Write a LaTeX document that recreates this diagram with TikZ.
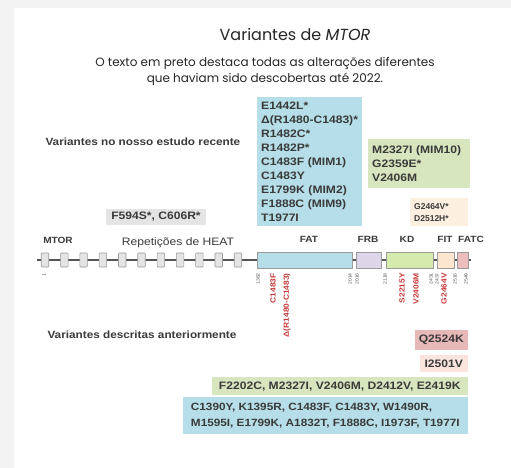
\documentclass[tikz,border=0pt]{standalone}
\usepackage{fontspec}
\setmainfont{Liberation Sans}[FakeStretch=1.12]
\newfontfamily\plainsans{Liberation Sans}
\newfontfamily\titlefont{Poppins}
\definecolor{cblue}{HTML}{B5DEE9}
\definecolor{cgreen}{HTML}{D7E6BE}
\definecolor{ckd}{HTML}{D6EAAE}
\definecolor{cfrb}{HTML}{DDD6E8}
\definecolor{cfit}{HTML}{FDE6CF}
\definecolor{cfatc}{HTML}{EDBDBD}
\definecolor{corange}{HTML}{FDEFE0}
\definecolor{cpink}{HTML}{E7B8B8}
\definecolor{clpink}{HTML}{FBE4DE}
\definecolor{cgray}{HTML}{E4E4E4}
\definecolor{ctext}{HTML}{3A3A3A}
\definecolor{cred}{HTML}{C83A3A}
\definecolor{cline}{HTML}{555555}
\definecolor{cedge}{HTML}{9A9A9A}
\definecolor{cframe}{HTML}{F3F3F3}
\tikzset{
  boxtxt/.style={inner xsep=4pt, inner ysep=0pt, align=left, text=ctext,
    font=\bfseries\fontsize{10.8}{14}\selectfont},
  sectlbl/.style={anchor=west, text=ctext, font=\bfseries\fontsize{10.5}{12}\selectfont},
  domlbl/.style={text=ctext, font=\bfseries\fontsize{9}{10}\selectfont},
  dombox/.style={draw=cedge, line width=0.6pt},
  heatbox/.style={draw=cedge, fill=cgray, line width=0.6pt, minimum width=7.5pt, minimum height=14pt, inner sep=0pt, rounded corners=0.8pt},
  tick/.style={rotate=90, anchor=east, inner sep=0pt, text=cline, font=\fontsize{4.5}{4.5}\selectfont},
  redlbl/.style={rotate=90, anchor=east, inner sep=0pt, text=cred, font=\bfseries\fontsize{7.5}{7.5}\selectfont},
}
\begin{document}
\begin{tikzpicture}[x=1pt,y=-1pt]
\useasboundingbox (0,0) rectangle (511,468);
\fill[cframe] (0,0) rectangle (511,468);
\fill[white] (14,8) rectangle (511,468);

% title
\node[text=black!85, font=\titlefont\fontsize{16}{19}\selectfont] (title) at (295,34) {Variantes de \textit{MTOR}};
\node[text=black!85, align=center, font=\titlefont\fontsize{12}{16}\selectfont] (sub) at (265,71)
  {O texto em preto destaca todas as alterações diferentes\\que haviam sido descobertas até 2022.};

% section labels
\node[sectlbl] (recent) at (42,142) {Variantes no nosso estudo recente};
\node[sectlbl] (prev) at (44,335) {Variantes descritas anteriormente};

% top variant boxes
\node[boxtxt, fill=cblue, anchor=north west, minimum width=105pt, minimum height=129pt, text width=97pt] (bluetop) at (257,97)
  {E1442L*\\Δ(R1480-C1483)*\\R1482C*\\R1482P*\\C1483F (MIM1)\\C1483Y\\E1799K (MIM2)\\F1888C (MIM9)\\T1977I};
\node[boxtxt, fill=cgreen, anchor=north west, minimum width=102pt, minimum height=49pt, text width=94pt] (greentop) at (368,139)
  {M2327I (MIM10)\\G2359E*\\V2406M};
\node[boxtxt, fill=corange, anchor=north west, minimum width=58pt, minimum height=28pt, text width=50pt, font=\bfseries\plainsans\fontsize{8.5}{12}\selectfont] (orangetop) at (410,198)
  {G2464V*\\D2512H*};
\node[boxtxt, fill=cgray, minimum width=100pt, minimum height=16pt, align=center] (graytop) at (156,217)
  {F594S*, C606R*};

% labels above bar
\node[domlbl] (mtor) at (58,240) {MTOR};
\node[text=ctext, font=\fontsize{10.8}{12}\selectfont] (heat) at (178,243) {Repetições de HEAT};
\node[domlbl] (fatl) at (309,239) {FAT};
\node[domlbl] (frbl) at (368,239) {FRB};
\node[domlbl] (kdl) at (407,239) {KD};
\node[domlbl] (fitl) at (445,239) {FIT};
\node[domlbl] (fatcl) at (471,239) {FATC};

% backbone
\coordinate (bs) at (37,260);
\coordinate (be) at (471,260);
\draw[cline, line width=1.1pt] (bs) -- (be);
\foreach \i in {0,...,10}{
  \node[heatbox] (h\i) at ({45+19.3*\i},260) {};
}
\draw[dombox, fill=cblue] (257,252) rectangle (352,268);
\draw[dombox, fill=cfrb] (356,252) rectangle (381,268);
\draw[dombox, fill=ckd] (386,252) rectangle (433,268);
\draw[dombox, fill=cfit] (437,252) rectangle (454,268);
\draw[dombox, fill=cfatc] (457,252) rectangle (468,268);

% position ticks
\node[tick] (t1) at (44,273) {1};
\node[tick] (t1382) at (258,273) {1382};
\node[tick] (t2014) at (350,273) {2014};
\node[tick] (t2016) at (357,273) {2016};
\node[tick] (t2118) at (385,273) {2118};
\node[tick] (t2431) at (431,273) {2431};
\node[tick] (t2437) at (437,273) {2437};
\node[tick] (t2516) at (455,273) {2516};
\node[tick] (t2549) at (466,273) {2549};

% red variant labels
\node[redlbl] (rc1483f) at (273,273) {C1483F};
\node[redlbl] (rdel) at (287,273) {Δ(R1480-C1483)};
\node[redlbl] (rs2215y) at (402,273) {S2215Y};
\node[redlbl] (rv2406m) at (416,273) {V2406M};
\node[redlbl] (rg2464v) at (444,273) {G2464V};

% bottom boxes
\node[boxtxt, fill=cpink, anchor=north east, minimum width=51pt, minimum height=20pt, align=right] (q2524k) at (468,330) {Q2524K};
\node[boxtxt, fill=clpink, anchor=north east, minimum width=48pt, minimum height=17pt, align=right] (i2501v) at (468,355) {I2501V};
\node[boxtxt, fill=cgreen, anchor=north east, minimum width=256pt, minimum height=18pt, align=right] (greenbot) at (468,377)
  {F2202C, M2327I, V2406M, D2412V, E2419K};
\node[boxtxt, fill=cblue, anchor=north east, minimum width=285pt, minimum height=37pt, inner xsep=3pt, font=\bfseries\fontsize{10.5}{15.5}\selectfont] (bluebot) at (468,397)
  {C1390Y, K1395R, C1483F, C1483Y, W1490R,\\M1595I, E1799K, A1832T, F1888C, I1973F, T1977I};
\end{tikzpicture}
\end{document}
